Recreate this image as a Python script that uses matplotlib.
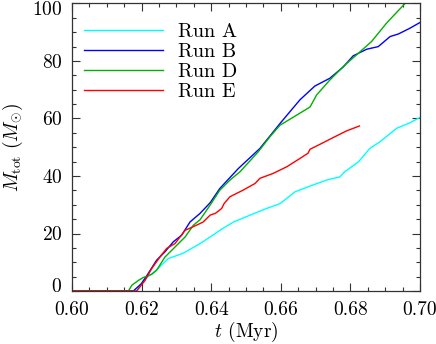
import matplotlib
matplotlib.use("Agg")
import matplotlib.pyplot as plt
from matplotlib.ticker import MultipleLocator
import matplotlib.transforms as mtransforms

plt.rcParams['font.family'] = ['cmr10']
plt.rcParams['mathtext.fontset'] = 'cm'
plt.rcParams['axes.formatter.use_mathtext'] = True

# Run A (cyan)
tA = [0.600, 0.6185, 0.6205, 0.6240, 0.6277, 0.6319, 0.6368, 0.6397, 0.6430, 0.6464,
      0.6510, 0.6559, 0.6598, 0.6641, 0.6684, 0.6732, 0.6770, 0.6784, 0.6823, 0.6856,
      0.6885, 0.6933, 0.6971, 0.7000]
mA = [0.0, 0.0, 3.7, 7.0, 11.3, 13.1, 16.5, 18.8, 21.5, 24.0,
      26.3, 28.7, 30.4, 34.5, 36.5, 38.6, 39.7, 41.5, 44.9, 49.6,
      51.9, 56.6, 58.5, 60.4]

# Run B (blue)
tB = [0.600, 0.6176, 0.6200, 0.6219, 0.6243, 0.6267, 0.6291, 0.6315, 0.6339, 0.6368,
      0.6397, 0.6425, 0.6478, 0.6540, 0.6598, 0.6655, 0.6698, 0.6741, 0.6780, 0.6808,
      0.6847, 0.6880, 0.6914, 0.6938, 0.6971, 0.7000]
mB = [0.0, 0.0, 2.6, 6.1, 10.7, 13.6, 17.1, 19.4, 24.0, 27.0,
      30.7, 35.7, 42.6, 49.6, 58.3, 66.5, 71.3, 74.0, 78.0, 81.8,
      84.1, 85.0, 88.5, 89.4, 91.4, 93.4]

# Run D (green)
tD = [0.600, 0.6162, 0.6172, 0.6191, 0.6205, 0.6229, 0.6243, 0.6267, 0.6296, 0.6325,
      0.6349, 0.6368, 0.6397, 0.6425, 0.6454, 0.6483, 0.6535, 0.6569, 0.6598, 0.6646,
      0.6684, 0.6703, 0.6741, 0.6784, 0.6823, 0.6861, 0.6904, 0.6957, 0.6980]
mD = [0.0, 0.0, 2.0, 3.7, 4.7, 5.8, 7.2, 11.8, 15.3, 18.8,
      22.9, 24.8, 29.9, 35.1, 38.6, 41.5, 48.4, 53.7, 57.7, 61.2,
      64.0, 68.2, 73.4, 78.6, 82.7, 86.8, 93.2, 100.0, 103.0]

# Run E (red)
tE = [0.600, 0.6186, 0.6210, 0.6229, 0.6253, 0.6272, 0.6296, 0.6325, 0.6358, 0.6377,
      0.6397, 0.6412, 0.6430, 0.6437, 0.6454, 0.6492, 0.6526, 0.6540, 0.6578, 0.6617,
      0.6655, 0.6678, 0.6684, 0.6722, 0.6751, 0.6789, 0.6826]
mE = [0.0, 0.0, 3.7, 7.8, 11.9, 14.8, 16.5, 21.1, 22.9, 24.0,
      26.4, 27.0, 28.7, 30.4, 32.8, 35.1, 37.4, 39.2, 40.9, 43.2,
      46.1, 47.9, 49.3, 51.6, 53.4, 55.7, 57.4]

labels = ["Run A", "Run B", "Run D", "Run E"]
colors = ["#00ffff", "#0000ff", "#00b000", "#ff0000"]

fig = plt.figure(figsize=(4.36, 3.44), dpi=100)
ax = fig.add_axes([72/436, 1 - 291/344, 348/436, 287.5/344])

for t, m, lab, c in zip([tA, tB, tD, tE], [mA, mB, mD, mE], labels, colors):
    ax.plot(t, m, color=c, lw=1.0, label=lab, clip_on=True)

ax.set_xlim(0.60, 0.70)
ax.set_ylim(0, 100)
ax.xaxis.set_major_locator(MultipleLocator(0.02))
ax.xaxis.set_minor_locator(MultipleLocator(0.005))
ax.yaxis.set_major_locator(MultipleLocator(20))
ax.yaxis.set_minor_locator(MultipleLocator(5))
ax.xaxis.set_major_formatter(matplotlib.ticker.FormatStrFormatter('%.2f'))
ax.tick_params(which='both', direction='in', top=True, right=True, labelsize=14, color='#333333')
ax.tick_params(which='major', length=6, width=0.8, pad=7)
ax.tick_params(which='minor', length=3, width=0.8)
for s in ax.spines.values():
    s.set_linewidth(0.9)
    s.set_color('#333333')

ax.set_xlabel(r"$t$ (Myr)", fontsize=14, labelpad=1)
ax.set_ylabel(r"$M_{\rm tot}\ (M_{\odot})$", fontsize=14, labelpad=5)

fig.canvas.draw()
ylabs = ax.get_yticklabels()
off_up = mtransforms.ScaledTranslation(0, 6/100, fig.dpi_scale_trans)
off_dn = mtransforms.ScaledTranslation(0, -5/100, fig.dpi_scale_trans)
for lab in ylabs:
    if lab.get_text() in ('0', '$\\mathdefault{0}$'):
        lab.set_transform(lab.get_transform() + off_up)
    if lab.get_text() in ('100', '$\\mathdefault{100}$'):
        lab.set_transform(lab.get_transform() + off_dn)

leg = ax.legend(loc='upper left', bbox_to_anchor=(0.0, 0.975), frameon=False,
                fontsize=14.5, handlelength=3.9, handletextpad=0.75,
                labelspacing=0.1, borderaxespad=0.3, borderpad=0.3)

fig.savefig("out.png", dpi=100)
